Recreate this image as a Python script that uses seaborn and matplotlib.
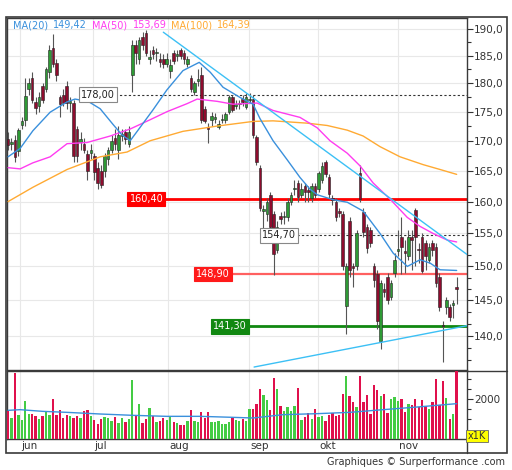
import numpy as np
import pandas as pd
import seaborn as sns
import matplotlib
matplotlib.use('Agg')
import matplotlib.pyplot as plt
from matplotlib.ticker import FixedLocator, FuncFormatter, NullFormatter
from matplotlib.patches import Rectangle
from matplotlib.lines import Line2D
from matplotlib.transforms import blended_transform_factory

#region data (one candle per trading day)

opens = [170.3, 169.5, 170.2, 168.3, 172.7, 173.5, 179.0, 181.0, 176.7, 176.0,
         179.5, 179.0, 182.0, 186.5, 183.7, 177.5, 178.0, 179.5, 176.5, 176.5,
         172.0, 169.8, 169.5, 167.8, 168.0, 167.5, 165.5, 165.0, 165.0, 167.0,
         168.5, 170.5, 168.5, 170.8, 171.5, 169.5, 181.5, 187.0, 184.5, 188.5,
         189.3, 184.5, 186.0, 185.5, 184.5, 184.5, 183.5, 182.3, 185.5, 185.0,
         186.0, 185.5, 183.5, 181.0, 178.5, 180.5, 181.5, 175.5, 172.3, 173.5,
         173.8, 172.3, 173.5, 173.5, 175.0, 177.5, 176.0, 176.3, 177.3, 175.8,
         177.0, 177.3, 170.6, 165.5, 158.5, 158.0, 161.0, 158.0, 152.5, 157.8,
         157.5, 157.5, 160.0, 162.0, 163.0, 161.0, 162.5, 161.8, 160.5, 162.5,
         162.0, 163.5, 166.4, 164.0, 160.6, 160.0, 158.5, 158.0, 144.2, 157.0,
         150.0, 150.0, 164.6, 158.3, 156.0, 155.5, 150.0, 148.8, 139.2, 146.7,
         148.5, 145.5, 149.0, 152.3, 154.5, 152.3, 151.5, 154.5, 158.6, 152.7,
         154.5, 153.5, 151.0, 153.5, 153.0, 148.5, 141.5, 144.0, 144.0, 144.3,
         147.0]
highs = [171.5, 170.5, 171.0, 172.2, 174.0, 181.0, 181.0, 182.0, 177.5, 178.5,
         180.0, 183.0, 187.0, 189.0, 184.5, 178.0, 179.0, 180.5, 177.5, 177.0,
         172.5, 171.5, 170.5, 168.5, 169.5, 168.0, 166.5, 166.0, 168.0, 169.0,
         171.0, 172.0, 172.5, 172.0, 172.0, 172.5, 188.0, 188.0, 188.5, 189.5,
         189.8, 186.0, 186.8, 186.5, 185.5, 185.3, 185.5, 184.5, 186.0, 186.0,
         186.5, 186.0, 185.0, 181.5, 180.5, 182.5, 183.0, 176.0, 173.0, 175.0,
         174.8, 173.5, 174.5, 175.0, 178.0, 178.0, 177.0, 177.0, 178.0, 178.3,
         178.2, 178.0, 171.0, 166.0, 159.5, 160.5, 161.5, 158.5, 157.0, 158.3,
         158.5, 160.5, 161.5, 163.5, 163.5, 163.0, 163.0, 162.5, 163.0, 163.0,
         165.0, 166.5, 166.8, 164.5, 161.0, 160.5, 159.0, 158.5, 150.5, 157.5,
         150.5, 155.5, 166.0, 159.0, 156.5, 156.0, 150.5, 149.5, 148.0, 147.5,
         149.0, 148.0, 152.0, 155.5, 157.5, 154.0, 155.5, 155.5, 159.0, 153.5,
         155.0, 154.0, 153.5, 154.0, 153.5, 149.0, 142.0, 145.5, 144.5, 145.0,
         148.5]
lows = [168.5, 168.5, 166.5, 167.5, 172.0, 172.5, 178.0, 176.5, 174.5, 175.0,
        176.5, 178.5, 181.0, 183.0, 180.5, 174.0, 176.0, 175.5, 175.0, 166.5,
        166.5, 168.5, 168.0, 163.5, 167.0, 163.5, 162.0, 162.2, 164.0, 166.0,
        168.0, 168.5, 167.0, 170.0, 169.5, 169.0, 178.5, 183.5, 183.5, 186.0,
        185.0, 183.5, 184.5, 184.0, 183.0, 182.8, 183.0, 181.0, 183.5, 184.0,
        184.5, 183.5, 183.0, 178.5, 178.0, 179.5, 173.0, 173.0, 169.7, 172.5,
        173.0, 172.0, 173.0, 173.0, 174.5, 175.0, 175.5, 175.5, 176.0, 175.5,
        176.5, 170.5, 166.0, 158.5, 155.5, 157.0, 155.5, 148.7, 152.0, 156.5,
        156.5, 157.0, 159.5, 161.0, 160.0, 160.5, 160.0, 160.0, 160.0, 160.5,
        161.5, 163.0, 164.0, 160.5, 159.5, 157.0, 157.5, 149.5, 140.2, 148.5,
        147.0, 149.5, 160.0, 154.5, 152.0, 153.0, 147.0, 141.0, 138.2, 145.5,
        144.5, 145.0, 148.5, 151.5, 148.8, 149.0, 151.0, 149.5, 150.0, 150.5,
        149.0, 149.5, 150.5, 151.5, 147.0, 143.5, 136.4, 143.0, 142.0, 142.5,
        144.5]
closes = [169.3, 169.8, 167.3, 171.8, 173.3, 177.8, 180.0, 177.0, 175.7, 177.5,
          177.0, 182.5, 186.0, 183.5, 181.5, 176.3, 176.5, 176.5, 176.8, 167.5,
          167.5, 170.3, 168.5, 165.0, 168.5, 164.8, 163.0, 162.7, 167.5, 168.5,
          170.0, 169.5, 171.0, 171.2, 170.3, 171.5, 187.0, 185.5, 188.0, 187.0,
          185.5, 184.8, 185.3, 185.7, 183.8, 183.5, 184.5, 183.4, 184.0, 185.3,
          185.0, 184.5, 184.5, 179.0, 180.0, 180.8, 173.5, 173.3, 172.0, 174.2,
          174.0, 172.8, 173.8, 174.5, 177.5, 175.3, 176.2, 176.5, 176.7, 177.5,
          177.3, 171.0, 166.4, 159.0, 158.8, 160.0, 156.0, 151.8, 156.0, 157.2,
          157.8, 160.0, 161.0, 162.2, 160.8, 162.0, 161.5, 161.5, 162.5, 161.0,
          164.7, 165.8, 164.5, 161.2, 160.2, 157.5, 158.2, 150.0, 150.0, 149.5,
          149.7, 155.0, 160.4, 155.2, 152.8, 153.5, 148.0, 142.0, 147.5, 146.3,
          145.0, 147.5, 151.0, 152.5, 153.0, 152.0, 154.5, 154.0, 154.5, 152.4,
          149.3, 151.5, 153.0, 152.5, 147.5, 144.0, 141.3, 145.0, 142.6, 144.7,
          146.7]
volumes = [1383, 1050, 3300, 1217, 967, 1883, 1250, 1250, 1167, 1000,
           1133, 1383, 1217, 2000, 1217, 1467, 1050, 1217, 1167, 1050,
           1167, 1050, 1383, 1433, 1167, 967, 767, 1000, 1100, 1050,
           883, 1100, 800, 1050, 833, 1000, 2933, 1167, 1767, 800,
           1000, 1550, 1167, 833, 917, 1050, 967, 1100, 850, 800,
           717, 717, 883, 1467, 917, 850, 1350, 1050, 1350, 833,
           833, 883, 767, 767, 850, 1050, 967, 917, 1000, 883,
           1500, 1500, 1767, 2500, 2217, 1933, 1467, 3050, 2500, 1667,
           1417, 1600, 1383, 1667, 2550, 967, 1100, 1300, 1000, 1517,
           1100, 1167, 917, 1217, 1300, 1133, 1217, 2250, 3167, 2133,
           1833, 1583, 3167, 1833, 2183, 1267, 2717, 2467, 2133, 2250,
           1300, 2000, 2083, 1883, 2017, 1333, 1750, 1717, 2000, 1583,
           1933, 1633, 1517, 1850, 3000, 1717, 2883, 2050, 1000, 1250,
           3383]

# moving averages as drawn on the chart (day index, value)
ma20_day = [0, 3.5, 7.2, 12.2, 17.1, 19.4, 23.2, 26.7, 30.4, 33, 35.4, 38.3,
            42, 46, 50.7, 55.4, 58.6, 62.3, 67.2, 71, 73, 76.8, 80.9, 84.6,
            87.5, 89.6, 94.2, 98.3, 102.9, 107.8, 111.6, 115.7, 119.4, 122.3,
            125.2, 130]
ma20_val = [167.3, 168.7, 171.7, 174.9, 176.7, 177.2, 176.8, 175.5, 172.8, 171,
            170, 172.3, 175.3, 178.8, 182.3, 183.8, 182, 179.3, 177.5, 176.3,
            173.8, 170, 166.8, 163.9, 162, 161.1, 160.3, 159.9, 158.5, 155,
            152, 150, 151, 150.5, 149.5, 149.4]
ma50_day = [0, 3.5, 7.2, 12.2, 17.1, 22.9, 29.6, 35.4, 41.2, 46.1, 51.9, 54.8,
            60.6, 65.2, 72.2, 76.8, 84.6, 89.6, 93.3, 98.3, 102, 105.8, 110.7,
            115.7, 119.4, 123.2, 127.2, 130]
ma50_val = [165.5, 165.3, 166.3, 167.3, 169.5, 169.7, 170.8, 172, 173.6, 175,
            176.4, 177.2, 176.8, 176.3, 176.5, 175.2, 174, 172.2, 170, 167.9,
            165.8, 163, 160.4, 157.5, 156.1, 155, 154, 153.7]
ma100_day = [0, 7.2, 17.1, 26.7, 34.5, 41.2, 50.7, 60.6, 71, 76.8, 86.7, 92.5,
             98.3, 102.9, 107.8, 113.6, 120.3, 125.2, 130]
ma100_val = [160, 162.3, 165.2, 167.3, 168.1, 170, 171.6, 172.5, 173.3, 173.4,
             173, 172.6, 171.8, 170.8, 169, 167.3, 166, 165.2, 164.4]
vol_avg_day = [0, 3.5, 10, 17, 26.7, 36.2, 46, 55.7, 65.2, 71, 79.7, 89.6,
               99.1, 108.7, 118.6, 130]
vol_avg_val = [1433, 1467, 1383, 1333, 1250, 1183, 1133, 1133, 1083, 1050,
               1217, 1267, 1333, 1467, 1600, 1767]

legend_names = ['MA(20)', 'MA(50)', 'MA(100)']
legend_values = [149.42, 153.69, 164.39]

# trendlines (day index, price at both ends)
trend_down_day, trend_down_val = [45, 133], [189.4, 151.8]
trend_up_day, trend_up_val = [71.3, 133], [135.7, 141.4]

# horizontal levels: price, day where the label sits
level_prices = [178.00, 160.40, 154.70, 148.90, 141.30]
level_label_day = [26.1, 40.1, 78.6, 59.3, 64.3]
level_line_start = [31.0, 45.2, 83.8, 64.3, 69.6]

months = ['jun', 'jul', 'aug', 'sep', 'okt', 'nov']
month_starts = [3.5, 24.6, 46.4, 69.9, 89.9, 113.0]

price_ticks = [140, 145, 150, 155, 160, 165, 170, 175, 180, 185, 190]

#endregion

#region colours

MA20_C = '#3a90dc'
MA50_C = '#ff3cf0'
MA100_C = '#ffaa33'
TREND_C = '#3cc0f5'
CANDLE_UP = '#2e9a35'
CANDLE_DOWN = '#8e0c2e'
VOL_UP = '#44cc44'
VOL_DOWN = '#e0104c'
FRAME_C = '#3a3a3a'
GRID_C = '#e8e8e8'
TEXT_C = '#333333'

#endregion

sns.set_style('white')
plt.rcParams['font.family'] = ['DejaVu Sans']

W, H = 512, 470

def fx(x):
  return x / W

def fy(y):
  return 1 - y / H

fig = plt.figure(figsize=(W / 100, H / 100), dpi=100)
ax = fig.add_axes([fx(7), fy(370), fx(467) - fx(7), fy(18) - fy(370)])
ax_vol = fig.add_axes([fx(7), fy(439), fx(467) - fx(7), fy(371) - fy(439)])

idx = np.arange(len(closes))
o, h, l, c = map(np.array, (opens, highs, lows, closes))
up = c >= o

""" Price panel """

ax.set_yscale('log')
ax.vlines(idx, l, h, color='#555555', lw=0.8, zorder=3)
body_lo = np.minimum(o, c)
body_h = np.maximum(np.abs(c - o), 0.25)
ax.bar(idx, body_h, bottom=body_lo, width=0.75,
       color=np.where(up, CANDLE_UP, CANDLE_DOWN), edgecolor='#222222',
       linewidth=0.4, zorder=4)

for day, val, col in [(ma100_day, ma100_val, MA100_C), (ma50_day, ma50_val, MA50_C),
                      (ma20_day, ma20_val, MA20_C)]:
  sns.lineplot(x=day, y=val, ax=ax, color=col, lw=1.0, zorder=5)

ax.plot(trend_down_day, trend_down_val, color=TREND_C, lw=1.0, zorder=5)
ax.plot(trend_up_day, trend_up_val, color=TREND_C, lw=1.0, zorder=5)

# support / resistance levels
level_styles = [
  dict(color='#333333', lw=0.8, ls=(0, (2, 2))),
  dict(color='#ff0000', lw=2.0, ls='-'),
  dict(color='#333333', lw=0.8, ls=(0, (2, 2))),
  dict(color='#ff6060', lw=1.6, ls='-'),
  dict(color='#118811', lw=2.0, ls='-'),
]
level_boxes = [
  dict(fc='white', ec='#888888', tc='#222222'),
  dict(fc='#ff0000', ec='#ff0000', tc='white'),
  dict(fc='white', ec='#888888', tc='#222222'),
  dict(fc='#ff1a1a', ec='#ff1a1a', tc='white'),
  dict(fc='#118811', ec='#118811', tc='white'),
]
for price, lab_day, start, style, box in zip(level_prices, level_label_day, level_line_start,
                                             level_styles, level_boxes):
  ax.plot([start, 133.0], [price, price], zorder=2, **style)
  ax.text(lab_day, price, f'{price:.2f}'.replace('.', ','), ha='center', va='center',
          fontsize=7, color=box['tc'], zorder=8,
          bbox=dict(boxstyle='square,pad=0.22', fc=box['fc'], ec=box['ec'], lw=0.8))

ax.set_xlim(-0.3, 133.0)
ax.set_ylim(135.3, 192.1)
ax.set_xticks(month_starts)
ax.tick_params(axis='x', length=0, labelbottom=False)
ax.yaxis.set_major_locator(FixedLocator(price_ticks))
ax.yaxis.set_major_formatter(FuncFormatter(lambda v, pos: f'{v:.1f}'.replace('.', ',')))
minor = [p + k * 5 / 3 for p in range(135, 160, 5) for k in (1, 2)] + \
        [p + 2.5 for p in range(160, 190, 5)]
ax.yaxis.set_minor_locator(FixedLocator(minor))
ax.yaxis.set_minor_formatter(NullFormatter())
ax.yaxis.tick_right()
ax.tick_params(axis='y', which='major', direction='out', length=4, width=0.8, pad=1,
               labelsize=7.5, colors=TEXT_C)
ax.tick_params(axis='y', which='minor', direction='out', length=3, width=0.8, colors=TEXT_C)
ax.grid(True, which='major', color=GRID_C, lw=0.8)
ax.set_xlabel('')
ax.set_ylabel('')
for s in ax.spines.values():
  s.set_color(FRAME_C)
  s.set_linewidth(1.0)

# moving average legend
legend_x = [(13, 53), (92, 133), (171, 217)]
for name, value, (x1, x2), col in zip(legend_names, legend_values, legend_x,
                                      [MA20_C, MA50_C, MA100_C]):
  fig.text(fx(x1), fy(25), name, color=col, fontsize=7, va='center')
  fig.text(fx(x2), fy(25), f'{value:.2f}'.replace('.', ','), color=col, fontsize=7, va='center')

""" Volume panel """

vol_df = pd.DataFrame({'day': idx, 'volume': volumes,
                       'side': np.where(up, 'up', 'down')})
sns.barplot(data=vol_df, x='day', y='volume', hue='side',
            palette={'up': VOL_UP, 'down': VOL_DOWN}, dodge=False, width=0.68,
            saturation=1, native_scale=True, legend=False, ax=ax_vol, zorder=3,
            linewidth=0, edgecolor='none')
sns.lineplot(x=vol_avg_day, y=vol_avg_val, ax=ax_vol, color=MA20_C, lw=1.0, zorder=4)

ax_vol.set_xlim(-0.3, 133.0)
ax_vol.set_ylim(0, 3400)
ax_vol.set_xticks(month_starts)
ax_vol.tick_params(axis='x', length=0, labelbottom=False)
ax_vol.yaxis.tick_right()
ax_vol.yaxis.set_major_locator(FixedLocator([2000]))
ax_vol.yaxis.set_minor_locator(FixedLocator([1000, 1500, 2500, 3000]))
ax_vol.yaxis.set_major_formatter(FuncFormatter(lambda v, pos: f'{v:.0f}'))
ax_vol.tick_params(axis='y', which='major', direction='out', length=4, width=0.8, pad=1,
                   labelsize=7.5, colors=TEXT_C)
ax_vol.tick_params(axis='y', which='minor', direction='out', length=3, width=0.8, colors=TEXT_C)
ax_vol.grid(True, axis='x', color=GRID_C, lw=0.8)
ax_vol.set_xlabel('')
ax_vol.set_ylabel('')
for s in ax_vol.spines.values():
  s.set_color(FRAME_C)
  s.set_linewidth(1.0)

# month labels under the volume panel
trans = blended_transform_factory(ax_vol.transData, fig.transFigure)
for name, start in zip(months, month_starts):
  ax_vol.text(start + 0.3, fy(446), name, transform=trans, fontsize=7.5, color=TEXT_C,
              va='center', ha='left')

fig.text(fx(477), fy(436), 'x1K', fontsize=7, color=TEXT_C, ha='center', va='center',
         bbox=dict(boxstyle='square,pad=0.15', fc='#ffff00', ec='#666666', lw=0.6))

""" Frame and credits """

fig.add_artist(Rectangle((fx(6), fy(453)), fx(507) - fx(6), fy(17) - fy(453),
                         transform=fig.transFigure, fill=False, ec=FRAME_C, lw=1.2))
fig.add_artist(Line2D([fx(467), fx(467)], [fy(439), fy(453)], transform=fig.transFigure,
                      color=FRAME_C, lw=1.0))
fig.add_artist(Line2D([fx(467), fx(507)], [fy(371), fy(371)], transform=fig.transFigure,
                      color=FRAME_C, lw=1.0))

fig.text(fx(505), fy(462), 'Graphiques © Surperformance .com', fontsize=7, color=TEXT_C,
         ha='right', va='center')

fig.savefig('out.png', dpi=100, facecolor='white')
